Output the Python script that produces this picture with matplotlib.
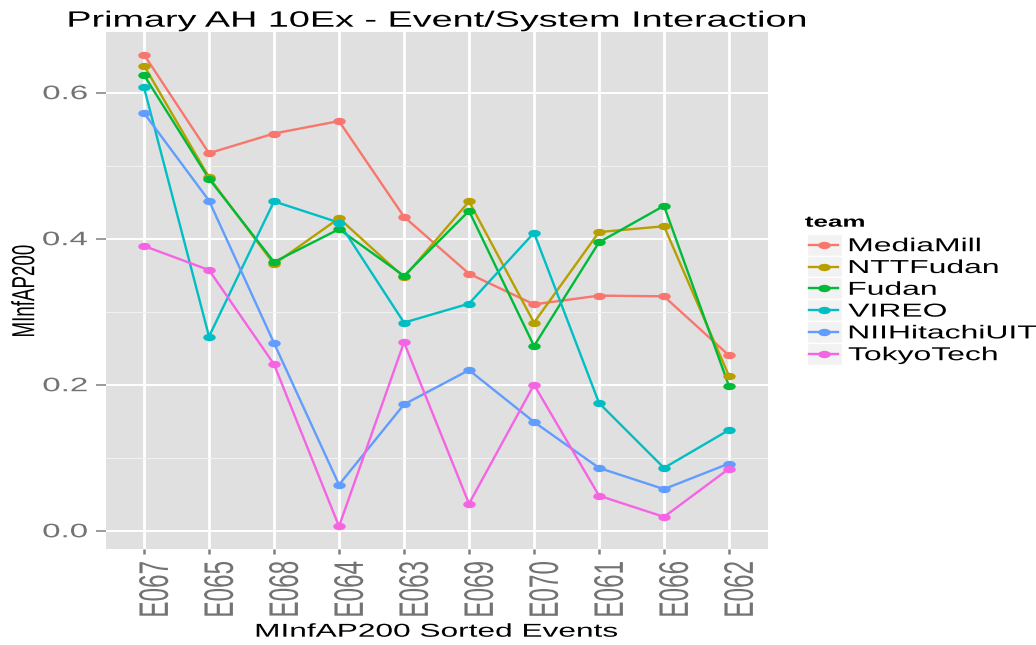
import matplotlib
matplotlib.use('Agg')
import matplotlib.pyplot as plt
from matplotlib.patheffects import AbstractPathEffect
from matplotlib.transforms import Affine2D
from matplotlib.path import Path
from matplotlib.lines import Line2D
from matplotlib.patches import Rectangle

# data
events = ['E067', 'E065', 'E068', 'E064', 'E063', 'E069', 'E070', 'E061', 'E066', 'E062']
teams = ['MediaMill', 'NTTFudan', 'Fudan', 'VIREO', 'NIIHitachiUIT', 'TokyoTech']
mediamill = [0.652, 0.517, 0.544, 0.561, 0.430, 0.352, 0.310, 0.322, 0.321, 0.240]
nttfudan = [0.637, 0.484, 0.365, 0.428, 0.347, 0.451, 0.285, 0.409, 0.417, 0.212]
fudan = [0.624, 0.482, 0.368, 0.413, 0.349, 0.438, 0.253, 0.395, 0.445, 0.198]
vireo = [0.607, 0.266, 0.451, 0.422, 0.285, 0.311, 0.408, 0.175, 0.086, 0.138]
niihitachi = [0.572, 0.452, 0.257, 0.063, 0.173, 0.220, 0.149, 0.086, 0.057, 0.092]
tokyotech = [0.390, 0.357, 0.228, 0.006, 0.258, 0.037, 0.200, 0.048, 0.019, 0.085]
series = [mediamill, nttfudan, fudan, vireo, niihitachi, tokyotech]
colors = ['#F8766D', '#B79F00', '#00BA38', '#00BFC4', '#619CFF', '#F564E3']
yticks = [0.0, 0.2, 0.4, 0.6]
ytick_labels = ['0.0', '0.2', '0.4', '0.6']

W, H = 1036, 645
SX = 1.7  # the original picture is stretched sideways by about this much
plt.rcParams['font.family'] = ['Liberation Sans', 'DejaVu Sans']


def fx(px):
    return px / W


def fy(py):
    return 1 - py / H


class StretchX(AbstractPathEffect):
    # widen glyphs horizontally around an anchor, like the stretched source
    def __init__(self, sx=SX, anchor='center', dx=0):
        super().__init__()
        self.sx, self.anchor, self.dx = sx, anchor, dx

    def draw_path(self, renderer, gc, tpath, affine, rgbFace=None):
        ext = tpath.get_extents(affine)
        if self.anchor == 'left':
            a = ext.x0
        elif self.anchor == 'right':
            a = ext.x1
        else:
            a = (ext.x0 + ext.x1) / 2
        st = Affine2D().translate(-a, 0).scale(self.sx, 1).translate(a + self.dx, 0)
        renderer.draw_path(gc, tpath, Affine2D(st.get_matrix() @ affine.get_matrix()), rgbFace)


dot = Path.unit_circle().transformed(Affine2D().scale(SX, 1))

fig = plt.figure(figsize=(W / 100, H / 100), dpi=100)
ax = fig.add_axes([fx(106), fy(549), (768 - 106) / W, (549 - 32) / H])
ax.set_facecolor('#E0E0E0')
for s in ax.spines.values():
    s.set_visible(False)

x = list(range(len(events)))
for vals, c in zip(series, colors):
    ax.plot(x, vals, color=c, lw=1.7, zorder=3, solid_capstyle='butt')
for vals, c in zip(series, colors):
    ax.plot(x, vals, ls='none', marker=dot, ms=9, mew=0, color=c, zorder=4)

ax.set_xlim(-0.585, 9.6)
ax.set_ylim(-0.025, 0.683)
ax.set_yticks(yticks)
ax.set_yticklabels(ytick_labels)
ax.set_yticks([0.1, 0.3, 0.5], minor=True)
ax.set_xticks(x)
ax.set_xticklabels(events, rotation=90, ha='left', va='top')
ax.grid(which='major', axis='y', color='white', lw=1.4, zorder=1)
ax.grid(which='minor', axis='y', color='#F2F2F2', lw=0.7, zorder=1)
ax.grid(which='major', axis='x', color='white', lw=2.0, zorder=1)
ax.set_axisbelow(True)
ax.tick_params(axis='y', which='major', length=7.2, width=1.1, color='#7F7F7F',
               labelcolor='#737373', labelsize=14, pad=6)
ax.tick_params(axis='y', which='minor', length=0)
ax.tick_params(axis='x', length=3.6, width=1.8, color='#7F7F7F',
               labelcolor='#737373', labelsize=17.5, pad=5)
for t in ax.xaxis.get_major_ticks():
    t.label1.set_path_effects([StretchX(anchor='left', dx=-5)])
for t in ax.yaxis.get_major_ticks():
    t.label1.set_path_effects([StretchX(anchor='right')])

fig.text(fx(437.5), fy(26.7), 'Primary AH 10Ex - Event/System Interaction', fontsize=16,
         ha='center', va='baseline', path_effects=[StretchX()])
fig.text(fx(436.5), fy(636.7), 'MInfAP200 Sorted Events', fontsize=13.4,
         ha='center', va='baseline', path_effects=[StretchX()])
fig.text(fx(25), fy(291), 'MInfAP200', fontsize=13.5, rotation=90,
         ha='center', va='center', path_effects=[StretchX()])

# legend drawn by hand to get the ggplot key boxes
fig.text(fx(805), fy(226.7), 'team', fontsize=11, fontweight='bold',
         ha='left', va='baseline', path_effects=[StretchX(anchor='left')])
for i, (name, c) in enumerate(zip(teams, colors)):
    cy = 244.7 + 21.8 * i
    fig.add_artist(Rectangle((fx(806.5), fy(cy + 10.9)), 35 / W, 21.8 / H,
                             transform=fig.transFigure, facecolor='#F2F2F2',
                             edgecolor='white', lw=1))
    fig.add_artist(Line2D([fx(809), fx(838)], [fy(cy), fy(cy)], transform=fig.transFigure,
                          color=c, lw=1.7))
    fig.add_artist(Line2D([fx(823.5)], [fy(cy)], transform=fig.transFigure, ls='none',
                          marker=dot, ms=9, mew=0, color=c))
    fig.text(fx(848.3), fy(cy + 6.5), name, fontsize=13.5, ha='left', va='baseline',
             path_effects=[StretchX(anchor='left')])

fig.savefig('out.png', dpi=100)
